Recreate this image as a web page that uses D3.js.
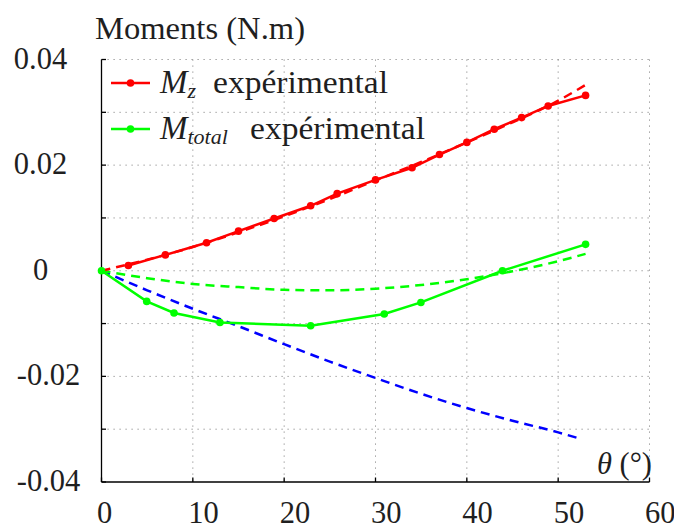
<!DOCTYPE html>
<html>
<head>
<meta charset="utf-8">
<script src="https://cdn.jsdelivr.net/npm/d3@7"></script>
<style>
  html, body { margin: 0; padding: 0; background: #fff; }
  svg { display: block; }
</style>
</head>
<body>
<svg id="chart" width="674" height="529"></svg>
<script>
// ---- Data ----
const mzExpTheta = [2.94, 6.99, 11.5, 15.0, 18.9, 22.9, 25.8, 30.0, 34.0, 37.0, 40.0, 43.0, 46.0, 48.9, 53.0];
const mzExpValue = [0.0010, 0.0030, 0.0053, 0.0075, 0.0099, 0.0123, 0.0146, 0.0172, 0.0195, 0.0220, 0.0243, 0.0268, 0.0290, 0.0312, 0.0332];

const mtotExpTheta = [0, 4.95, 7.94, 12.97, 22.9, 30.96, 34.97, 43.9, 53.0];
const mtotExpValue = [0, -0.0058, -0.0080, -0.0098, -0.0104, -0.0082, -0.0060, 0.0, 0.0050];

const modelTheta = [0, 5, 10, 15, 20, 25, 30, 35, 40, 45, 50, 53];
const mzModelValue   = [0, 0.0021, 0.0045, 0.0073, 0.0103, 0.0136, 0.0171, 0.0206, 0.0243, 0.0281, 0.0322, 0.0352];
const mtotModelValue = [0, -0.0014, -0.0025, -0.0031, -0.0036, -0.0037, -0.0034, -0.0027, -0.0016, -0.0001, 0.0018, 0.0032];

const blueTheta = [0, 5, 10, 15, 20, 25, 30, 35, 40, 45, 50, 52.4];
const blueValue = [0, -0.0037, -0.0072, -0.0105, -0.0139, -0.0172, -0.0203, -0.0233, -0.0260, -0.0284, -0.0306, -0.0318];

const xTicks = [0, 10, 20, 30, 40, 50, 60];
const xTickLabels = ["0", "10", "20", "30", "40", "50", "60"];
const yGridValues = [-0.04, -0.03, -0.02, -0.01, 0, 0.01, 0.02, 0.03, 0.04];
const yLabelValues = [-0.04, -0.02, 0, 0.02, 0.04];
const yLabelTexts = ["-0.04", "-0.02", "0", "0.02", "0.04"];

const legendNames = [{base: "M", sub: "z"}, {base: "M", sub: "total"}];
const yTitle = "Moments (N.m)";

// ---- Layout ----
const svg = d3.select("#chart")
  .attr("font-family", "'Liberation Serif', 'DejaVu Serif', 'Liberation Sans', sans-serif");
const x = d3.scaleLinear().domain([0, 60]).range([101.5, 649.5]);
const y = d3.scaleLinear().domain([-0.04, 0.04]).range([482, 59.5]);
const FS = 30.5;
const INK = "#1f1f1f";

const RED = "#ff0000", GREEN = "#00ff00", BLUE = "#0000ff";
const zip = (a, b) => a.map((v, i) => [v, b[i]]);

// grid
const grid = svg.append("g");
grid.selectAll(".gx").data(xTicks.filter(d => d > 0)).join("line")
  .attr("x1", d => x(d)).attr("x2", d => x(d))
  .attr("y1", y(0.04)).attr("y2", y(-0.04))
  .attr("stroke", "#8c8c8c").attr("stroke-width", 1)
  .attr("stroke-dasharray", "1.2,4.8");
grid.selectAll(".gy").data(yGridValues.filter(d => d > -0.04)).join("line")
  .attr("x1", x(0)).attr("x2", x(60))
  .attr("y1", d => y(d)).attr("y2", d => y(d))
  .attr("stroke", "#8c8c8c").attr("stroke-width", 1)
  .attr("stroke-dasharray", "1.2,4.8");

// axes lines
const ax = svg.append("g").attr("stroke", "#000").attr("stroke-width", 1.3);
ax.append("line").attr("x1", x(0)).attr("x2", x(0)).attr("y1", y(0.04)).attr("y2", y(-0.04));
ax.append("line").attr("x1", x(0)).attr("x2", x(60)).attr("y1", y(-0.04)).attr("y2", y(-0.04));
ax.selectAll(".ty").data(yGridValues).join("line")
  .attr("x1", x(0)).attr("x2", x(0) + 4.5).attr("y1", d => y(d)).attr("y2", d => y(d));
ax.selectAll(".tx").data(xTicks).join("line")
  .attr("x1", d => x(d)).attr("x2", d => x(d)).attr("y1", y(-0.04)).attr("y2", y(-0.04) - 4.5);

// tick labels
svg.append("g").attr("fill", INK).selectAll("text").data(yLabelValues).join("text")
  .attr("x", d => d < 0 ? 48.5 : 40.5)
  .attr("y", d => y(d) - 1)
  .attr("dominant-baseline", "central")
  .attr("text-anchor", "middle")
  .attr("font-size", FS)
  .text((d, i) => yLabelTexts[i]);

svg.append("g").attr("fill", INK).selectAll("text").data(xTicks).join("text")
  .attr("x", d => x(d) - 4.5)
  .attr("y", 523)
  .attr("text-anchor", "start")
  .attr("font-size", FS)
  .text((d, i) => xTickLabels[i]);

// axis titles
svg.append("text").attr("fill", INK).attr("x", 95).attr("y", 39).attr("font-size", FS)
  .attr("textLength", 210).attr("lengthAdjust", "spacingAndGlyphs").text(yTitle);
const th = svg.append("text").attr("fill", INK).attr("x", 652).attr("y", 474).attr("text-anchor", "end").attr("font-size", FS);
th.append("tspan").attr("font-style", "italic").text("θ");
th.append("tspan").text(" (°)");

// lines
const line = d3.line().x(d => x(d[0])).y(d => y(d[1]));
const curve = d3.line().x(d => x(d[0])).y(d => y(d[1])).curve(d3.curveMonotoneX);
const plot = svg.append("g").attr("fill", "none").attr("stroke-width", 2.5);

plot.append("path").datum(zip(blueTheta, blueValue)).attr("d", curve)
  .attr("stroke", BLUE).attr("stroke-dasharray", "9,6");
plot.append("path").datum(zip(modelTheta, mtotModelValue)).attr("d", curve)
  .attr("stroke", GREEN).attr("stroke-dasharray", "9,6");
plot.append("path").datum(zip(modelTheta, mzModelValue)).attr("d", curve)
  .attr("stroke", RED).attr("stroke-dasharray", "9,6");

plot.append("path").datum(zip(mtotExpTheta, mtotExpValue)).attr("d", line).attr("stroke", GREEN);
plot.append("path").datum(zip(mzExpTheta, mzExpValue)).attr("d", line).attr("stroke", RED);

svg.append("g").selectAll("circle").data(zip(mtotExpTheta, mtotExpValue)).join("circle")
  .attr("cx", d => x(d[0])).attr("cy", d => y(d[1])).attr("r", 3.8).attr("fill", GREEN);
svg.append("g").selectAll("circle").data(zip(mzExpTheta, mzExpValue)).join("circle")
  .attr("cx", d => x(d[0])).attr("cy", d => y(d[1])).attr("r", 3.8).attr("fill", RED);

// legend
const legColors = [RED, GREEN];
const legY = [83, 129];
const wordX = [213, 250];
legendNames.forEach((n, i) => {
  const g = svg.append("g");
  g.append("line").attr("x1", 111).attr("x2", 150).attr("y1", legY[i]).attr("y2", legY[i])
    .attr("stroke", legColors[i]).attr("stroke-width", 2.5);
  g.append("circle").attr("cx", 130.5).attr("cy", legY[i]).attr("r", 3.8).attr("fill", legColors[i]);
  const t = g.append("text").attr("fill", INK).attr("x", 160).attr("y", legY[i] + 10).attr("font-size", FS).attr("font-style", "italic");
  t.append("tspan").attr("font-size", 33).text(n.base);
  t.append("tspan").attr("font-size", 22).attr("dy", 5).text(n.sub);
  g.append("text").attr("fill", INK).attr("x", wordX[i]).attr("y", legY[i] + 10).attr("font-size", FS)
    .attr("textLength", 175).attr("lengthAdjust", "spacingAndGlyphs").text("expérimental");
});
</script>
</body>
</html>
